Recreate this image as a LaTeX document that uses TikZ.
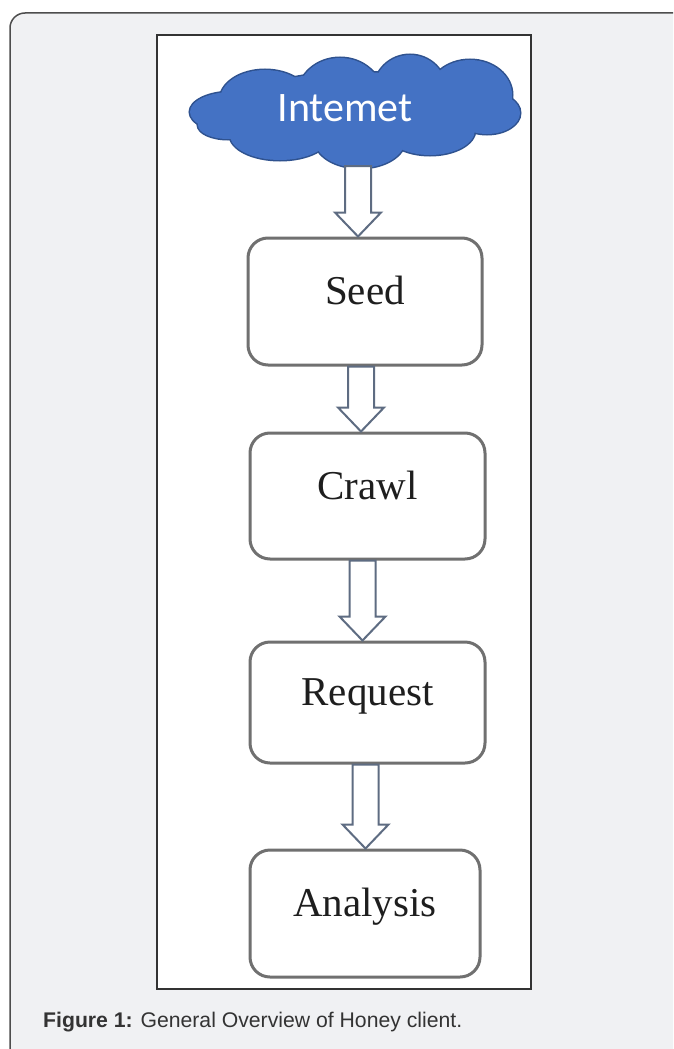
\documentclass[tikz,border=0pt]{standalone}
\usepackage{fontspec}
\setmainfont{Liberation Serif}
\newfontfamily\capfont{Liberation Sans}
\newfontfamily\cloudfont{Carlito}
\usetikzlibrary{calc}
\definecolor{pagebg}{HTML}{F0F1F3}
\definecolor{framec}{HTML}{4D4D4D}
\definecolor{panelc}{HTML}{333333}
\definecolor{boxc}{HTML}{707070}
\definecolor{cloudfill}{HTML}{4472C4}
\definecolor{cloudedge}{HTML}{2F528F}
\definecolor{arrowc}{HTML}{5E6C82}
\definecolor{textc}{HTML}{1E1E1E}
\definecolor{captionc}{HTML}{333333}

\tikzset{
  stepbox/.style={draw=boxc, line width=3pt, fill=white, rounded corners=20pt,
    inner sep=0pt, text=textc, font=\fontsize{41}{48}\selectfont,
    text height=28pt, text depth=22pt},
  blockarrow/.style={draw=arrowc, line width=2pt, fill=white, line join=miter,
    to path={let \p1=(\tikztostart), \p2=(\tikztotarget) in
      (\x1-13pt,\y1) -- (\x1+13pt,\y1) -- (\x1+13pt,\y2+24pt)
      -- (\x1+23pt,\y2+24pt) -- (\x1,\y2) -- (\x1-23pt,\y2+24pt)
      -- (\x1-13pt,\y2+24pt) -- cycle}},
  puff/.style={line width=3pt, draw=cloudedge}
}

\begin{document}
\begin{tikzpicture}[x=1pt, y=-1pt]
  \useasboundingbox (0,0) rectangle (673,1049);
  \clip (0,0) rectangle (673,1049);

  % outer panel
  \draw[framec, line width=1.5pt, fill=pagebg, rounded corners=15pt]
    (10,13) rectangle (690,1064);

  % white figure area
  \draw[panelc, line width=1.5pt, fill=white] (157,35) rectangle (531,989);

  % cloud: union of overlapping ellipses, outlined then filled
  \def\puffs{232/112/42/20, 265/100/45/30, 340/95/42/37, 410/90/36/35,
    470/95/42/35, 487/113/33/21, 430/130/45/25, 360/140/45/28,
    280/135/50/25, 228/125/30/14, 355/112/120/40}
  \foreach \cx/\cy/\rx/\ry in \puffs
    \draw[puff] (\cx,\cy) ellipse [x radius=\rx pt, y radius=\ry pt];
  \foreach \cx/\cy/\rx/\ry in \puffs
    \fill[cloudfill] (\cx,\cy) ellipse [x radius=\rx pt, y radius=\ry pt];
  \node[text=white, font=\cloudfont\fontsize{42}{50}\selectfont, inner sep=0pt,
        text height=27pt, text depth=0pt] (cloud) at (345,108) {Intemet};
  \coordinate (cloudbase) at (358,166);

  % process steps
  \node[stepbox, minimum width=234pt, minimum height=127pt] (seed) at (365,301.5) {Seed};
  \node[stepbox, minimum width=235pt, minimum height=126pt] (crawl) at (367.5,496) {Crawl};
  \node[stepbox, minimum width=235pt, minimum height=121pt] (request) at (367.5,702.5) {Request};
  \node[stepbox, minimum width=230pt, minimum height=127pt] (analysis) at (365,913.5) {Analysis};

  % hollow block arrows
  \draw[blockarrow] (cloudbase) to (seed.north);
  \draw[blockarrow] ([xshift=-4pt]seed.south) to ([xshift=-4pt]crawl.north);
  \draw[blockarrow] ([xshift=-5pt]crawl.south) to ([xshift=-5pt]request.north);
  \draw[blockarrow] ([xshift=-2pt]request.south) to ([xshift=-2pt]analysis.north);

  % caption
  \node[anchor=west, inner sep=0pt, text=captionc,
        font=\capfont\fontsize{21.2}{25}\selectfont] (caption) at (43,1022)
    {\textbf{Figure 1:} General Overview of Honey client.};
\end{tikzpicture}
\end{document}
